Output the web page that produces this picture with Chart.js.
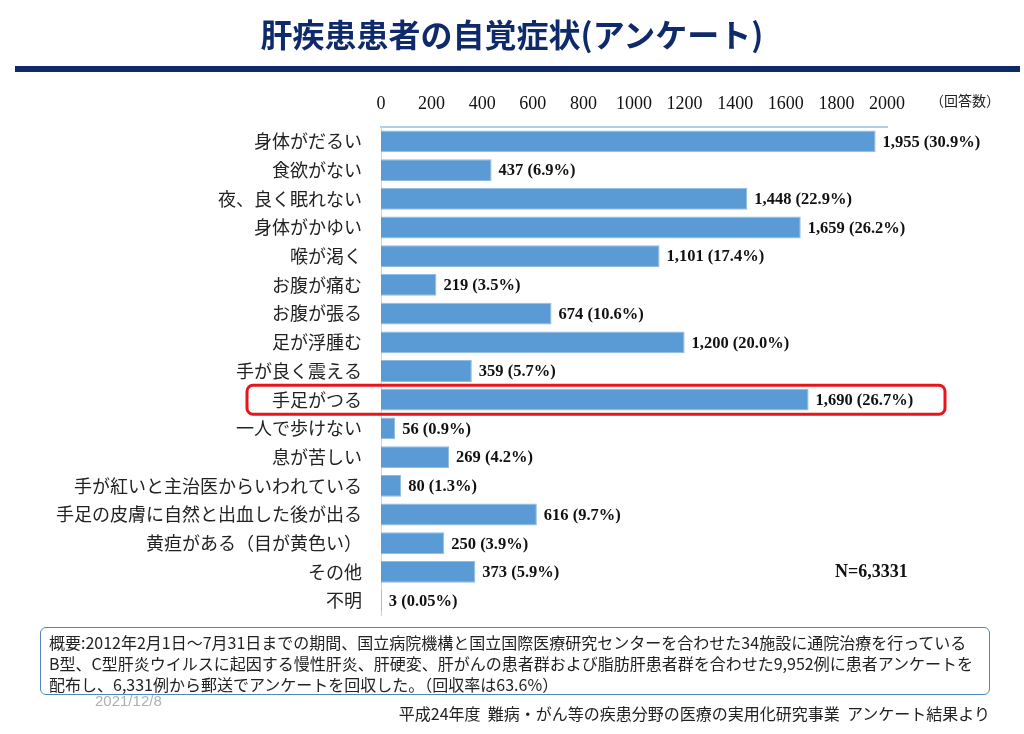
<!DOCTYPE html>
<html lang="ja">
<head>
<meta charset="utf-8">
<script src="https://cdn.jsdelivr.net/npm/chart.js@4.4.1/dist/chart.umd.min.js"></script>
<style>
  html, body { margin: 0; padding: 0; background: #fff; }
  body { width: 1024px; height: 734px; position: relative; overflow: hidden;
         font-family: "Noto Sans CJK JP", "Noto Sans", sans-serif; }
  #chart { position: absolute; left: 0; top: 0; }
  .title { position: absolute; left: 0; width: 1024px; top: 11px; text-align: center;
           font-size: 32px; font-weight: bold; color: #0f2a6b; line-height: 44px; }
  .rule { position: absolute; left: 15px; width: 1005px; top: 66px; height: 6px; background: #0d2a66; }
  .unit { position: absolute; left: 930px; top: 90px; font-size: 14px; color: #222; }
  .total { position: absolute; left: 835px; top: 561px; font-family: "Liberation Serif", serif;
           font-weight: bold; font-size: 18px; color: #111; }
  .note { position: absolute; left: 40px; top: 627px; width: 934px; height: 62px;
          border: 1.5px solid #4f86c6; border-radius: 6px; padding: 4px 6px 0 8px;
          font-size: 16px; line-height: 21px; color: #222; white-space: nowrap; }
  .date { position: absolute; left: 95px; top: 692px; font-size: 15px; color: #b0b0b0;
          font-family: "Liberation Sans", sans-serif; }
  .source { position: absolute; right: 34px; top: 701px; font-size: 16px; color: #222; }
</style>
</head>
<body>
<canvas id="chart" width="1024" height="734"></canvas>
<div class="title">肝疾患患者の自覚症状(アンケート)</div>
<div class="rule"></div>
<div class="unit">（回答数）</div>
<div class="total">N=6,3331</div>
<div class="note">概要:2012年2月1日～7月31日までの期間、国立病院機構と国立国際医療研究センターを合わせた34施設に通院治療を行っている<br>B型、C型肝炎ウイルスに起因する慢性肝炎、肝硬変、肝がんの患者群および脂肪肝患者群を合わせた9,952例に患者アンケートを<br>配布し、6,331例から郵送でアンケートを回収した。（回収率は63.6%）</div>
<div class="date">2021/12/8</div>
<div class="source">平成24年度&nbsp;&nbsp;難病・がん等の疾患分野の医療の実用化研究事業&nbsp;&nbsp;アンケート結果より</div>
<script>
// 症状ごとの回答数
const symptoms = [
  '身体がだるい', '食欲がない', '夜、良く眠れない', '身体がかゆい', '喉が渇く',
  'お腹が痛む', 'お腹が張る', '足が浮腫む', '手が良く震える', '手足がつる',
  '一人で歩けない', '息が苦しい', '手が紅いと主治医からいわれている',
  '手足の皮膚に自然と出血した後が出る', '黄疸がある（目が黄色い）', 'その他', '不明'
];
const counts = [1955, 437, 1448, 1659, 1101, 219, 674, 1200, 359, 1690, 56, 269, 80, 616, 250, 373, 3];
const percents = ['30.9', '6.9', '22.9', '26.2', '17.4', '3.5', '10.6', '20.0', '5.7', '26.7',
  '0.9', '4.2', '1.3', '9.7', '3.9', '5.9', '0.05'];
const highlightIndex = 9; // 手足がつる

// 棒の右に「回答数 (割合)」を書く
const valueLabels = {
  id: 'valueLabels',
  afterDatasetsDraw(chart) {
    const ctx = chart.ctx;
    const meta = chart.getDatasetMeta(0);
    ctx.save();
    ctx.font = 'bold 16.5px "Liberation Serif", serif';
    ctx.fillStyle = '#111';
    ctx.textBaseline = 'middle';
    meta.data.forEach((bar, i) => {
      const txt = counts[i].toLocaleString('en-US') + ' (' + percents[i] + '%)';
      ctx.fillText(txt, bar.x + 7, bar.y + 1);
    });
    ctx.restore();
  }
};

// 手足がつる の行を赤い枠で囲む
const highlightBox = {
  id: 'highlightBox',
  afterDraw(chart) {
    const ctx = chart.ctx;
    const area = chart.chartArea;
    const cy = chart.scales.y.getPixelForValue(highlightIndex);
    const x0 = area.left - 134, x1 = area.right + 58;
    ctx.save();
    ctx.strokeStyle = '#e8141c';
    ctx.lineWidth = 3;
    ctx.beginPath();
    ctx.roundRect(x0, cy - 14.5, x1 - x0, 29, 6);
    ctx.stroke();
    ctx.restore();
  }
};

new Chart(document.getElementById('chart').getContext('2d'), {
  type: 'bar',
  data: {
    labels: symptoms,
    datasets: [{
      data: counts,
      backgroundColor: '#5b9bd5',
      borderColor: '#8fbbe4',
      borderWidth: 1,
      barPercentage: 1,
      categoryPercentage: 0.76
    }]
  },
  options: {
    indexAxis: 'y',
    responsive: false,
    animation: false,
    layout: { padding: { left: 0, top: 0, right: 137, bottom: 119 } },
    plugins: { legend: { display: false }, tooltip: { enabled: false } },
    scales: {
      x: {
        position: 'top',
        min: 0,
        max: 2000,
        afterFit(scale) { scale.height = 127; },
        grid: { display: false, drawTicks: false },
        border: { display: true, color: '#b4cde6', width: 2 },
        ticks: {
          stepSize: 200,
          padding: 12,
          color: '#111',
          callback: v => String(v),
          font: { family: '"Liberation Serif", serif', size: 18 }
        }
      },
      y: {
        afterFit(scale) { scale.width = 381; },
        grid: { display: false, drawTicks: false },
        border: { display: true, color: '#c5d6e8', width: 1 },
        ticks: {
          padding: 19,
          color: '#222',
          font: { family: '"Noto Sans CJK JP", sans-serif', size: 18 }
        }
      }
    }
  },
  plugins: [valueLabels, highlightBox]
});
</script>
</body>
</html>
